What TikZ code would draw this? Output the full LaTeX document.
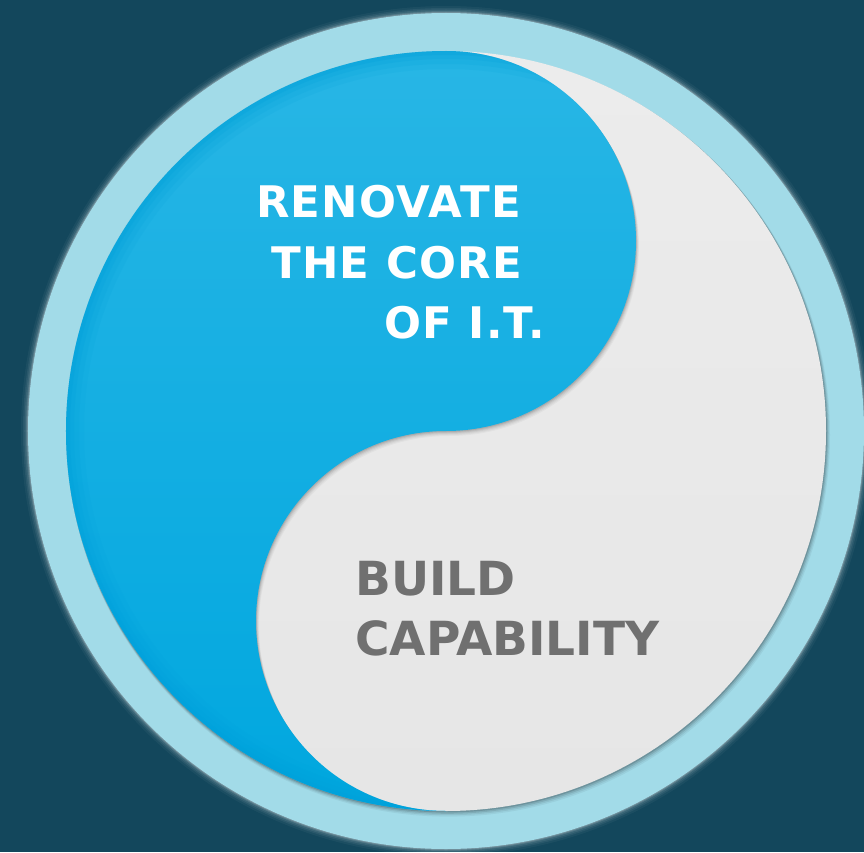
\documentclass[tikz,border=0pt]{standalone}
\usepackage{fontspec}
\setmainfont{DejaVu Sans}
\newfontfamily\whitefont{DejaVu Sans}[LetterSpace=3]
\newfontfamily\grayfont{DejaVu Sans}[LetterSpace=0]
\definecolor{bgteal}{RGB}{19,71,92}
\definecolor{ringblue}{RGB}{162,219,232}
\definecolor{bluetop}{RGB}{40,182,229}
\definecolor{bluebot}{RGB}{0,167,223}
\definecolor{bluerim}{RGB}{0,160,218}
\definecolor{whitereg}{RGB}{230,230,230}
\definecolor{whitetop}{RGB}{236,236,236}
\definecolor{graytext}{RGB}{112,112,112}
\tikzset{
  yinshape/.style={insert path={(0,380) arc[start angle=90,end angle=-90,radius=190]
     arc[start angle=90,end angle=270,radius=190]
     arc[start angle=270,end angle=90,radius=380] -- cycle}},
  whitetxt/.style={text=white,inner sep=0pt,anchor=base west,font=\whitefont\bfseries\fontsize{43.5}{50}\selectfont},
  graytxt/.style={text=graytext,inner sep=0pt,anchor=base west,font=\grayfont\bfseries\fontsize{47}{55}\selectfont}
}
\begin{document}
\begin{tikzpicture}[x=1pt,y=1pt]
\useasboundingbox (-446,-421) rectangle (418,431);
\fill[bgteal] (-446,-421) rectangle (418,431);
% glow around the ring
\foreach \r/\o in {425/0.04,423/0.06,421.5/0.08,420/0.12,419/0.18}
  \fill[white,opacity=\o] (0,0) circle[radius=\r];
\fill[ringblue] (0,0) circle[radius=418];
% shadow of the inner disc on the ring
\foreach \d/\o in {4/0.05,3/0.07,2/0.1,1/0.14}
  \fill[black,opacity=\o] (0.6*\d,-\d) circle[radius=380+0.4*\d];
% white half (full disc underneath)
\shade[top color=whitetop,bottom color=whitereg] (0,0) circle[radius=380];
% shadow of the blue half on the white half
\begin{scope}
  \clip (0,0) circle[radius=380];
  \foreach \d/\o in {5/0.03,4/0.04,3/0.05,2/0.07,1/0.09}
    \fill[black,opacity=\o,shift={(0.6*\d,-\d)},yinshape];
\end{scope}
% blue half
\shade[top color=bluetop,bottom color=bluebot,yinshape];
\begin{scope}
  \clip[yinshape];
  \foreach \w/\o in {36/0.12,26/0.15,16/0.2,8/0.25}
    \draw[bluerim,line width=\w,opacity=\o] (0,0) circle[radius=380];
\end{scope}
% texts
\node[whitetxt] (l1) at (-190,214) {RENOVATE};
\node[whitetxt] (l2) at (-175,153) {THE CORE};
\node[whitetxt] (l3) at (-62,93) {OF I.T.};
\node[graytxt] (b1) at (-91,-164) {BUILD};
\node[graytxt] (b2) at (-91,-224) {CAPABILITY};
\end{tikzpicture}
\end{document}
